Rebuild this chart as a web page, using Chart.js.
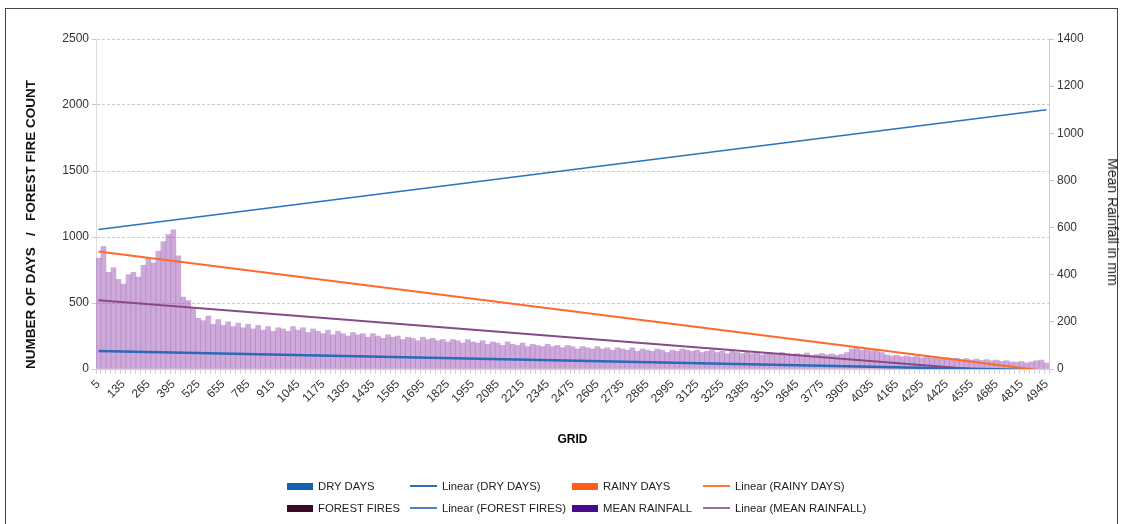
<!DOCTYPE html>
<html>
<head>
<meta charset="utf-8">
<script src="https://cdn.jsdelivr.net/npm/chart.js@4.4.0/dist/chart.umd.min.js"></script>
<style>
  body { margin: 0; background: #fff; font-family: 'Liberation Sans', Arial, sans-serif; }
  #wrap { position: relative; width: 1122px; height: 524px; overflow: hidden; }
  #frame { position: absolute; left: 5px; top: 8px; width: 1111px; height: 600px; border: 1px solid #444; }
  canvas { position: absolute; left: 0; top: 0; }
  .item { position: absolute; font-size: 11.3px; color: #222; line-height: 14px; white-space: nowrap; }
  .sw { display: inline-block; vertical-align: middle; margin-right: 5px; position: relative; top: -1px; }
  #rtitle { position: absolute; left: 1113px; top: 222px; font-size: 14px; color: #222; white-space: nowrap;
            transform: translate(-50%, -50%) rotate(90deg); }
</style>
</head>
<body>
<div id="wrap">
  <div id="frame"></div>
  <canvas id="chart" width="1122" height="524"></canvas>
  <div id="rtitle">Mean Rainfall in mm</div>
  <div id="legend"></div>
</div>
<script>
// grid ids on the x axis
const gridIds = [
  5, 31, 57, 83, 109, 135, 161, 187, 213, 239,
  265, 291, 317, 343, 369, 395, 421, 447, 473, 499,
  525, 551, 577, 603, 629, 655, 681, 707, 733, 759,
  785, 811, 837, 863, 889, 915, 941, 967, 993, 1019,
  1045, 1071, 1097, 1123, 1149, 1175, 1201, 1227, 1253, 1279,
  1305, 1331, 1357, 1383, 1409, 1435, 1461, 1487, 1513, 1539,
  1565, 1591, 1617, 1643, 1669, 1695, 1721, 1747, 1773, 1799,
  1825, 1851, 1877, 1903, 1929, 1955, 1981, 2007, 2033, 2059,
  2085, 2111, 2137, 2163, 2189, 2215, 2241, 2267, 2293, 2319,
  2345, 2371, 2397, 2423, 2449, 2475, 2501, 2527, 2553, 2579,
  2605, 2631, 2657, 2683, 2709, 2735, 2761, 2787, 2813, 2839,
  2865, 2891, 2917, 2943, 2969, 2995, 3021, 3047, 3073, 3099,
  3125, 3151, 3177, 3203, 3229, 3255, 3281, 3307, 3333, 3359,
  3385, 3411, 3437, 3463, 3489, 3515, 3541, 3567, 3593, 3619,
  3645, 3671, 3697, 3723, 3749, 3775, 3801, 3827, 3853, 3879,
  3905, 3931, 3957, 3983, 4009, 4035, 4061, 4087, 4113, 4139,
  4165, 4191, 4217, 4243, 4269, 4295, 4321, 4347, 4373, 4399,
  4425, 4451, 4477, 4503, 4529, 4555, 4581, 4607, 4633, 4659,
  4685, 4711, 4737, 4763, 4789, 4815, 4841, 4867, 4893, 4919,
  4945
];

// labels actually printed under the axis
const shownTicks = [5, 135, 265, 395, 525, 655, 785, 915, 1045, 1175, 1305, 1435, 1565, 1695,
  1825, 1955, 2085, 2215, 2345, 2475, 2605, 2735, 2865, 2995, 3125, 3255, 3385, 3515, 3645,
  3775, 3905, 4035, 4165, 4295, 4425, 4555, 4685, 4815, 4945];

// mean rainfall (mm, right axis)
const meanRainfall = [
  470, 520, 410, 430, 380, 360, 400, 410, 390, 440,
  470, 450, 500, 540, 570, 590, 480, 305, 290, 260,
  215, 205, 225, 190, 210, 185, 200, 180, 195, 175,
  190, 170, 185, 165, 180, 160, 175, 170, 160, 180,
  165, 175, 155, 170, 160, 150, 165, 145, 160, 150,
  140, 155, 145, 150, 135, 150, 140, 130, 145, 135,
  140, 125, 135, 130, 120, 135, 125, 130, 120, 125,
  115, 125, 120, 110, 125, 115, 110, 120, 105, 115,
  110, 100, 115, 105, 100, 110, 95, 105, 100, 95,
  105, 95, 100, 90, 100, 95, 85, 95, 90, 85,
  95, 85, 90, 80, 90, 85, 80, 90, 75, 85,
  80, 75, 85, 80, 70, 80, 75, 85, 80, 75,
  80, 70, 75, 80, 70, 75, 65, 75, 70, 65,
  75, 65, 70, 60, 70, 65, 60, 70, 65, 60,
  65, 60, 68, 58, 62, 66, 60, 64, 58, 62,
  70, 85, 90, 80, 88, 78, 82, 70, 60, 55,
  58, 52, 55, 50, 54, 48, 52, 46, 50, 45,
  48, 42, 46, 40, 44, 38, 42, 36, 40, 35,
  38, 32, 35, 30, 28, 32, 26, 30, 35, 38,
  25
];

// linear trend lines: value at first and at last grid id
const dryTrend = [1057, 1964];     // left axis
const rainyTrend = [891, -16];     // left axis
const fireTrend = [136, -10];      // left axis
const rainTrend = [292, -25];      // right axis (mm)

const legendNames = ['DRY DAYS', 'Linear (DRY DAYS)', 'RAINY DAYS', 'Linear (RAINY DAYS)',
  'FOREST FIRES', 'Linear (FOREST FIRES)', 'MEAN RAINFALL', 'Linear (MEAN RAINFALL)'];
const legendColors = ['#1660b0', '#2a6fba', '#ff5e14', '#ff7a3a',
  '#3a0a26', '#4a86c6', '#470a8a', '#9c6a9c'];

function trendData(ends) {
  const arr = gridIds.map(() => null);
  arr[0] = ends[0];
  arr[arr.length - 1] = ends[1];
  return arr;
}

function trendSet(label, ends, color, width, axis) {
  return {
    type: 'line',
    label: label,
    data: trendData(ends),
    yAxisID: axis,
    borderColor: color,
    borderWidth: width,
    pointRadius: 0,
    spanGaps: true,
    fill: false,
    order: 0
  };
}

const font = "'Liberation Sans', Arial, sans-serif";

new Chart(document.getElementById('chart'), {
  data: {
    labels: gridIds,
    datasets: [
      {
        type: 'bar',
        label: 'MEAN RAINFALL',
        data: meanRainfall,
        yAxisID: 'y1',
        backgroundColor: 'rgba(155, 85, 180, 0.5)',
        borderWidth: 0,
        barPercentage: 1,
        categoryPercentage: 1,
        order: 5
      },
      trendSet('Linear (DRY DAYS)', dryTrend, '#2a72c0', 1.5, 'y'),
      trendSet('Linear (RAINY DAYS)', rainyTrend, '#ff6a2a', 2, 'y'),
      trendSet('Linear (FOREST FIRES)', fireTrend, '#2a6ab8', 2.5, 'y'),
      trendSet('Linear (MEAN RAINFALL)', rainTrend, '#874a88', 2, 'y1')
    ]
  },
  options: {
    responsive: false,
    animation: false,
    layout: { padding: { left: 19, top: 39, right: 0, bottom: 73 } },
    plugins: {
      legend: { display: false },
      tooltip: { enabled: false }
    },
    scales: {
      x: {
        type: 'category',
        offset: true,
        grid: { drawOnChartArea: false, drawTicks: true, tickLength: 5, color: '#d6d6d6' },
        border: { color: '#d0d0d0' },
        ticks: {
          autoSkip: false,
          maxRotation: 45,
          minRotation: 45,
          color: '#333',
          font: { family: font, size: 12 },
          callback: function(val, idx) {
            return shownTicks.includes(gridIds[idx]) ? String(gridIds[idx]) : '';
          }
        },
        title: { display: true, text: 'GRID', color: '#000', font: { family: font, size: 12, weight: 'bold' } },
        afterFit: s => { s.height = 82; }
      },
      y: {
        position: 'left',
        min: 0,
        max: 2500,
        ticks: { stepSize: 500, color: '#333', font: { family: font, size: 12 }, callback: v => String(v) },
        grid: { color: '#c3cbd4', tickLength: 4, tickColor: '#c8c8c8' },
        border: { color: '#dddddd', dash: [3, 2] },
        title: {
          display: true,
          align: 'start',
          text: 'NUMBER OF DAYS   /   FOREST FIRE COUNT',
          color: '#111',
          font: { family: font, size: 13.5, weight: 'bold' }
        },
        afterFit: s => { s.width = 77; }
      },
      y1: {
        position: 'right',
        min: 0,
        max: 1400,
        ticks: { stepSize: 200, color: '#333', font: { family: font, size: 12 }, callback: v => String(v) },
        grid: { drawOnChartArea: false, tickLength: 5, color: '#c8c8c8' },
        border: { color: '#cccccc' },
        afterFit: s => { s.width = 73; }
      }
    }
  }
});

// legend laid out in a 4 x 2 grid like the original
const colX = [287, 410, 572, 703];
const rowY = [479, 501];
const legend = document.getElementById('legend');
legendNames.forEach((name, i) => {
  const el = document.createElement('div');
  el.className = 'item';
  el.style.left = colX[i % 4] + 'px';
  el.style.top = rowY[Math.floor(i / 4)] + 'px';
  const isLine = name.startsWith('Linear');
  const sw = isLine
    ? `<span class="sw" style="width:27px;height:2px;background:${legendColors[i]}"></span>`
    : `<span class="sw" style="width:26px;height:7px;background:${legendColors[i]}"></span>`;
  el.innerHTML = sw + name;
  legend.appendChild(el);
});
</script>
</body>
</html>
